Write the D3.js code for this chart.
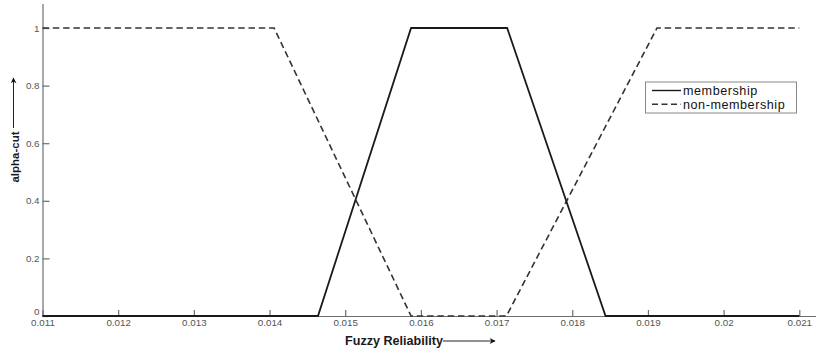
<!DOCTYPE html>
<html>
<head>
<meta charset="utf-8">
<script src="https://cdn.jsdelivr.net/npm/d3@7"></script>
<style>
  body { margin: 0; background: #fff; }
  svg { display: block; font-family: "Liberation Sans", Arial, sans-serif; }
</style>
</head>
<body>
<svg id="chart" width="816" height="353"></svg>
<script>
// data
const xTicks = [0.011, 0.012, 0.013, 0.014, 0.015, 0.016, 0.017, 0.018, 0.019, 0.02, 0.021];
const xTickLabels = ["0.011", "0.012", "0.013", "0.014", "0.015", "0.016", "0.017", "0.018", "0.019", "0.02", "0.021"];
const yTicks = [0, 0.2, 0.4, 0.6, 0.8, 1];
const yTickLabels = ["0", "0.2", "0.4", "0.6", "0.8", "1"];

const membershipX = [0.011, 0.01464, 0.01587, 0.01714, 0.01844, 0.021];
const membershipY = [0, 0, 1, 1, 0, 0];
const nonMembershipX = [0.011, 0.01406, 0.01587, 0.01713, 0.01912, 0.021];
const nonMembershipY = [1, 1, 0, 0, 1, 1];

const seriesNames = ["membership", "non-membership"];

const W = 816, H = 353;
const svg = d3.select("#chart");

// x range runs 0.011 -> 0.021 over 42.5 -> 799.3, axis line carries on to the edge
const x = d3.scaleLinear().domain([0.011, 0.021]).range([42.5, 799.3]);
const y = d3.scaleLinear().domain([0, 1]).range([316, 28]);
const xMax = x.invert(W);
const yMax = y.invert(3.5);

let axisColor = "#6e6e6e";

// axes
let gx = svg.append("g").attr("transform", "translate(0," + y(0) + ")");
gx.call(d3.axisBottom(x.copy().domain([0.011, xMax]).range([x(0.011), W]))
    .tickValues(xTicks)
    .tickFormat((d, i) => xTickLabels[i])
    .tickSizeInner(-6).tickSizeOuter(0).tickPadding(4));
gx.select(".domain").attr("stroke", axisColor).attr("stroke-width", 1.2);
gx.selectAll(".tick line").attr("stroke", axisColor).attr("stroke-width", 1.2);
gx.selectAll(".tick text").attr("fill", "#555").attr("font-size", 9.8).attr("dy", "0.6em");

let gy = svg.append("g").attr("transform", "translate(" + x(0.011) + ",0)");
gy.call(d3.axisLeft(y.copy().domain([0, yMax]).range([y(0), 3.5]))
    .tickValues(yTicks)
    .tickFormat((d, i) => yTickLabels[i])
    .tickSizeInner(-7).tickSizeOuter(0).tickPadding(3));
gy.select(".domain").attr("stroke", axisColor).attr("stroke-width", 1.2);
gy.selectAll(".tick text").attr("fill", "#555").attr("font-size", 9.8);
gy.selectAll(".tick line").attr("stroke", axisColor).attr("stroke-width", 1.2);
// the "0" label sits a little higher, just above the 0.011 label
gy.selectAll(".tick text").filter((d, i) => i == 0).attr("dy", "-0.15em");

// lines
let line = d3.line().x(d => x(d[0])).y(d => y(d[1]));

svg.append("path")
  .datum(nonMembershipX.map((v, i) => [v, nonMembershipY[i]]))
  .attr("d", line)
  .attr("fill", "none")
  .attr("stroke", "#333")
  .attr("stroke-width", 1.6)
  .attr("stroke-dasharray", "6.5,3.8");

svg.append("path")
  .datum(membershipX.map((v, i) => [v, membershipY[i]]))
  .attr("d", line)
  .attr("fill", "none")
  .attr("stroke", "#1a1a1a")
  .attr("stroke-width", 1.8);

// arrow heads
let defs = svg.append("defs");
defs.append("marker")
  .attr("id", "arrow")
  .attr("viewBox", "0 0 10 10")
  .attr("refX", 9).attr("refY", 5)
  .attr("markerWidth", 9).attr("markerHeight", 6)
  .attr("markerUnits", "userSpaceOnUse")
  .attr("orient", "auto")
  .append("path")
  .attr("d", "M0,0 L10,5 L0,10 L3,5 Z")
  .attr("fill", "#111");

// x title + arrow
svg.append("text")
  .attr("x", 345).attr("y", 345)
  .attr("font-size", 12.6).attr("font-weight", "bold").attr("fill", "#1a1a1a")
  .text("Fuzzy Reliability");
svg.append("line")
  .attr("x1", 443).attr("x2", 495).attr("y1", 341).attr("y2", 341)
  .attr("stroke", "#222").attr("stroke-width", 1)
  .attr("marker-end", "url(#arrow)");

// y title + arrow
svg.append("text")
  .attr("transform", "translate(19,157) rotate(-90)")
  .attr("text-anchor", "middle")
  .attr("font-size", 11.5).attr("font-weight", "bold").attr("fill", "#1a1a1a")
  .text("alpha-cut");
svg.append("line")
  .attr("x1", 13.5).attr("x2", 13.5).attr("y1", 128).attr("y2", 78)
  .attr("stroke", "#222").attr("stroke-width", 1)
  .attr("marker-end", "url(#arrow)");

// legend
let lg = svg.append("g");
lg.append("rect")
  .attr("x", 645.5).attr("y", 82)
  .attr("width", 151).attr("height", 31)
  .attr("fill", "#fff").attr("stroke", "#888").attr("stroke-width", 1);
seriesNames.forEach((name, i) => {
  let yy = 90.5 + i * 13.8;
  lg.append("line")
    .attr("x1", 652).attr("x2", 681).attr("y1", yy).attr("y2", yy)
    .attr("stroke", i == 0 ? "#1a1a1a" : "#333")
    .attr("stroke-width", 1.4)
    .attr("stroke-dasharray", i == 0 ? null : "6,3.5");
  lg.append("text")
    .attr("x", 683).attr("y", yy + 4.3)
    .attr("font-size", 12.6).attr("letter-spacing", 0.55).attr("fill", "#111")
    .text(name);
});
</script>
</body>
</html>
